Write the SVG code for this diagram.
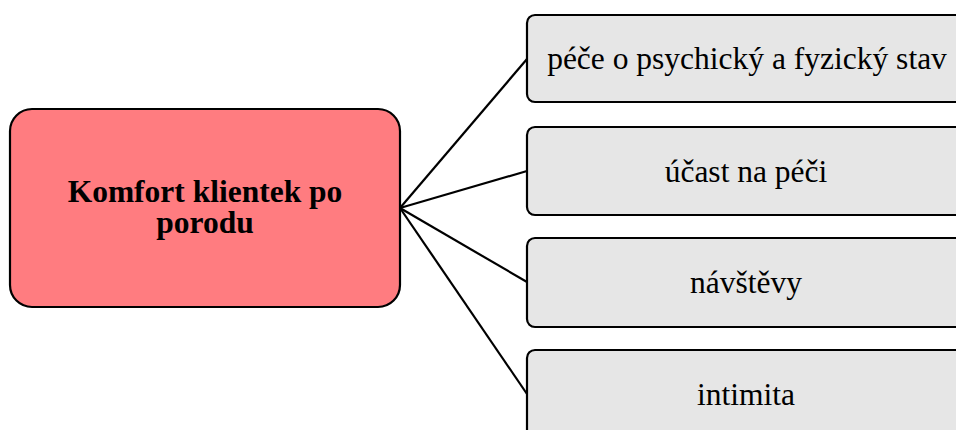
<svg xmlns="http://www.w3.org/2000/svg" width="956" height="430" viewBox="0 0 956 430">
  <style>
    .root rect { fill: #FF7C80; stroke: #000; stroke-width: 2.2; }
    .leaf rect { fill: #E6E6E6; stroke: #000; stroke-width: 2.2; }
    .root text { font-family: "Liberation Serif", "Times New Roman", serif; font-size: 31.5px; font-weight: bold; fill: #000; text-anchor: middle; }
    .leaf text { font-family: "Liberation Serif", "Times New Roman", serif; font-size: 31.5px; fill: #000; text-anchor: middle; }
    .links line { stroke: #000; stroke-width: 2.2; }
  </style>
  <rect width="956" height="430" fill="#fff"/>

  <g class="links" id="connectors">
    <line x1="400" y1="208" x2="527" y2="59"/>
    <line x1="400" y1="208" x2="527" y2="171"/>
    <line x1="400" y1="208" x2="527" y2="282"/>
    <line x1="400" y1="208" x2="527" y2="394"/>
  </g>

  <g class="root" id="node-komfort">
    <rect x="10" y="109" width="390" height="198" rx="22" ry="22"/>
    <text x="205" y="202">Komfort klientek po</text>
    <text x="205" y="233">porodu</text>
  </g>

  <g class="leaf" id="node-pece">
    <rect x="527" y="15" width="440" height="87" rx="8" ry="8"/>
    <text x="747" y="69">péče o psychický a fyzický stav</text>
  </g>

  <g class="leaf" id="node-ucast">
    <rect x="527" y="127" width="440" height="88" rx="8" ry="8"/>
    <text x="746" y="182">účast na péči</text>
  </g>

  <g class="leaf" id="node-navstevy">
    <rect x="527" y="238" width="440" height="89" rx="8" ry="8"/>
    <text x="746" y="293">návštěvy</text>
  </g>

  <g class="leaf" id="node-intimita">
    <rect x="527" y="350" width="440" height="89" rx="8" ry="8"/>
    <text x="746" y="405">intimita</text>
  </g>
</svg>
